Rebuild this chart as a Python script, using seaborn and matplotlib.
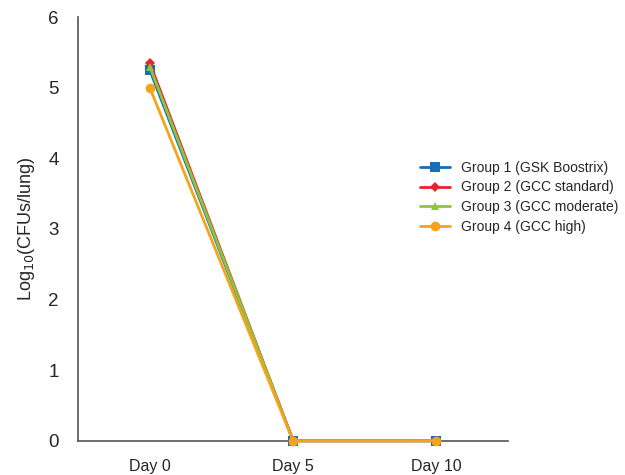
import matplotlib
matplotlib.use("Agg")
import matplotlib.pyplot as plt
import numpy as np
import pandas as pd
import seaborn as sns

# data
days = ["Day 0", "Day 5", "Day 10"]
groups = ["Group 1 (GSK Boostrix)", "Group 2 (GCC standard)",
          "Group 3 (GCC moderate)", "Group 4 (GCC high)"]
g1 = [5.25, 0, 0]
g2 = [5.35, 0, 0]
g3 = [5.30, 0, 0]
g4 = [5.00, 0, 0]

colors = ["#1a6db3", "#e8232b", "#8cc63f", "#f5a31a"]
markers = ["s", "D", "^", "o"]
msizes = [7, 5, 6, 7]

rows = []
for name, vals in zip(groups, [g1, g2, g3, g4]):
    for i, v in enumerate(vals):
        rows.append({"day": i, "value": v, "group": name})
df = pd.DataFrame(rows)

sns.set_style("white")
plt.rcParams["font.family"] = ["Liberation Sans", "DejaVu Sans"]

fig = plt.figure(figsize=(6.25, 4.75), dpi=100)
ax = fig.add_axes([0.125, 0.072, 0.688, 0.892])

for name, c, m, ms in zip(groups, colors, markers, msizes):
    sub = df[df["group"] == name]
    sns.lineplot(data=sub, x="day", y="value", ax=ax, color=c, marker=m,
                 markersize=ms, markeredgewidth=0, linewidth=2, label=name)

for ln in ax.lines:
    ln.set_clip_on(False)
    ln.set_zorder(5)

ax.set_xlim(-0.5, 2.5)
ax.set_ylim(0, 6)
ax.set_yticks(range(0, 7))
ax.set_xticks([0.5, 1.5, 2.5])
ax.set_xticklabels([])
ax.set_xticks([0, 1, 2], minor=True)
ax.set_xticklabels(days, minor=True)
ax.tick_params(axis="x", which="minor", length=0, pad=13, labelsize=11.5)
ax.tick_params(axis="x", which="major", direction="in", length=6, color="#555555")
ax.tick_params(axis="y", direction="in", length=6, color="#555555", labelsize=13.5, pad=14)
ax.set_xlabel("")
ax.set_ylabel("Log$_{10}$(CFUs/lung)", fontsize=13, labelpad=8)

for s in ["top", "right"]:
    ax.spines[s].set_visible(False)
for s in ["left", "bottom"]:
    ax.spines[s].set_color("#555555")
    ax.spines[s].set_linewidth(1.2)

ax.legend(loc="center left", bbox_to_anchor=(0.765, 0.575), frameon=False,
          fontsize=10, handlelength=2.2, labelspacing=0.4)

fig.savefig("out.png", dpi=100)
